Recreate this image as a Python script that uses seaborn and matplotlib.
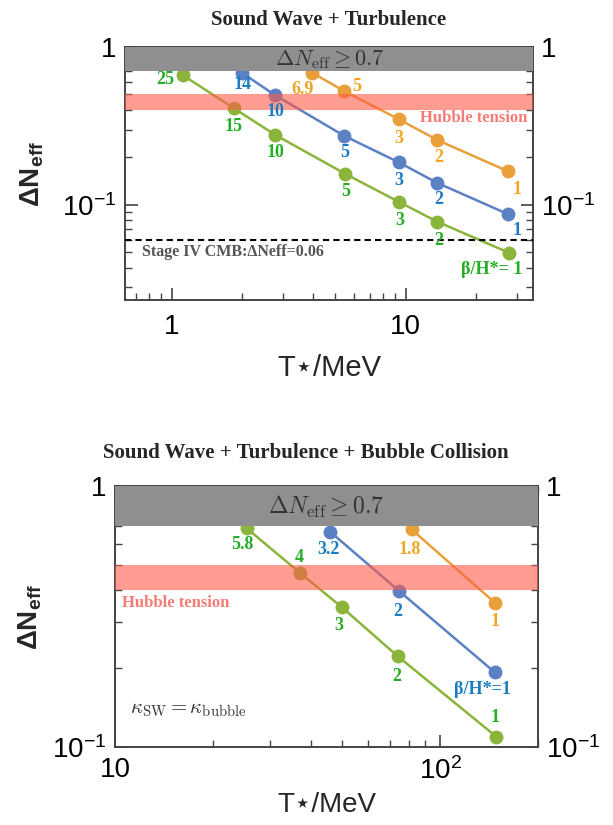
import numpy as np
import pandas as pd
import matplotlib
matplotlib.use("Agg")
import matplotlib.pyplot as plt
import seaborn as sns
from matplotlib.ticker import FixedLocator, FixedFormatter, LogLocator, NullFormatter

# --- panel 1: sound wave + turbulence ---
top_T_green = [1.11, 1.84, 2.77, 5.52, 9.40, 13.6, 27.5]
top_N_green = [0.665, 0.409, 0.277, 0.157, 0.104, 0.0784, 0.0499]
top_lab_green = ["25", "15", "10", "5", "3", "2", "β/H*= 1"]

top_T_blue = [1.99, 2.75, 5.47, 9.33, 13.6, 27.4]
top_N_blue = [0.687, 0.497, 0.273, 0.186, 0.138, 0.0873]
top_lab_blue = ["14", "10", "5", "3", "2", "1"]

top_T_orange = [3.98, 5.43, 9.33, 13.6, 27.4]
top_N_orange = [0.687, 0.527, 0.349, 0.258, 0.163]
top_lab_orange = ["6.9", "5", "3", "2", "1"]

# --- panel 2: + bubble collision ---
bot_T_green = [25.4, 37.2, 49.9, 74.0, 149.0]
bot_N_green = [0.689, 0.463, 0.343, 0.223, 0.1095]
bot_lab_green = ["5.8", "4", "3", "2", "1"]

bot_T_blue = [45.9, 74.8, 147.5]
bot_N_blue = [0.668, 0.396, 0.193]
bot_lab_blue = ["3.2", "2", "β/H*=1"]

bot_T_orange = [81.7, 147.5]
bot_N_orange = [0.682, 0.357]
bot_lab_orange = ["1.8", "1"]

hubble_band = (0.40, 0.50)
excluded = 0.7
stage4 = 0.06

line_col = {"green": "#8AB53A", "blue": "#5B80C4", "orange": "#E9A03A"}
text_col = {"green": "#25AD25", "blue": "#1B7CC2", "orange": "#F2A520"}

# label offsets in pixels (dx right, dy down)
top_off = {
    "green": [(-17, 5), (0, 18), (0, 18), (0, 18), (0, 18), (2, 19), (-17, 17)],
    "blue": [(1, 12), (1, 17), (0, 17), (0, 18), (2, 17), (9, 16)],
    "orange": [(-10, 17), (13, -4), (0, 19), (2, 18), (9, 18)],
}
bot_off = {
    "green": [(-4, 16), (-1, -16), (-3, 18), (-1, 20), (-1, -19)],
    "blue": [(-2, 18), (-1, 20), (-13, 17)],
    "orange": [(-2, 20), (0, 19)],
}

sns.set_theme(style="ticks")
plt.rcParams["font.family"] = ["Liberation Sans", "DejaVu Sans"]
plt.rcParams["mathtext.fontset"] = "custom"
plt.rcParams["mathtext.rm"] = "Liberation Sans"
plt.rcParams["mathtext.it"] = "Liberation Sans:italic"
plt.rcParams["mathtext.bf"] = "Liberation Sans:bold"

serif_bold = dict(family=["Liberation Serif", "DejaVu Serif"], fontweight="bold")


def make_df(series):
    rows = []
    for name, T, N in series:
        for t, n in zip(T, N):
            rows.append({"series": name, "T": t, "N": n})
    return pd.DataFrame(rows)


def style_axes(ax):
    for s in ax.spines.values():
        s.set_color("#444444")
        s.set_linewidth(1.4)
    ax.tick_params(which="both", direction="in", top=True, right=True,
                   labelright=True, colors="#444444", labelcolor="black")
    ax.tick_params(which="major", length=9, width=1.2, labelsize=20, pad=6)
    ax.tick_params(which="minor", length=5, width=1.0)


def draw_panel(ax, series, labels, offsets, xlim, ylim):
    df = make_df(series)
    sns.lineplot(data=df, x="T", y="N", hue="series", palette=line_col,
                 marker="o", markersize=10, markeredgewidth=0, linewidth=1.8,
                 legend=False, ax=ax, zorder=2, sort=False)
    ax.set_xscale("log")
    ax.set_yscale("log")
    ax.set_xlim(*xlim)
    ax.set_ylim(*ylim)
    for name, T, N in series:
        for t, n, lab, (dx, dy) in zip(T, N, labels[name], offsets[name]):
            ax.annotate(lab, xy=(t, n), xytext=(dx, -dy), textcoords="offset pixels",
                        ha="center", va="center", fontsize=13, color=text_col[name],
                        zorder=5, **serif_bold)
    ax.axhspan(excluded, ylim[1], color="#8F8F8F", zorder=4, lw=0)
    ax.axhspan(*hubble_band, color="#FF5A48", alpha=0.6, zorder=3, lw=0)
    style_axes(ax)


fig = plt.figure(figsize=(6.13, 8.25), dpi=100)

# top panel
ax1 = fig.add_axes([0.2039, 0.6364, 0.6656, 0.3067])
draw_panel(ax1,
           [("green", top_T_green, top_N_green),
            ("blue", top_T_blue, top_N_blue),
            ("orange", top_T_orange, top_N_orange)],
           {"green": top_lab_green, "blue": top_lab_blue, "orange": top_lab_orange},
           top_off, (0.63, 35), (0.025, 1))
ax1.axhline(stage4, color="black", ls=(0, (3, 2)), lw=1.5, zorder=3)
ax1.yaxis.set_major_locator(FixedLocator([0.1, 1]))
ax1.yaxis.set_major_formatter(FixedFormatter([r"$10^{-1}$", "1"]))
ax1.yaxis.set_minor_locator(LogLocator(base=10, subs=np.arange(2, 10)))
ax1.yaxis.set_minor_formatter(NullFormatter())
ax1.xaxis.set_major_locator(FixedLocator([1, 10]))
ax1.xaxis.set_major_formatter(FixedFormatter(["1", "10"]))
ax1.xaxis.set_minor_formatter(NullFormatter())
ax1.tick_params(axis="x", which="major", pad=10)
ax1.set_xlabel("T⋆/MeV", fontsize=21, labelpad=10)
ax1.set_ylabel(r"$\mathbf{\Delta N}_{\mathbf{eff}}$", fontsize=20, labelpad=12)
ax1.text(0.502, 0.949, r"$\Delta N_{\rm eff} \geq 0.7$", transform=ax1.transAxes,
         ha="center", va="center", fontsize=16, color="#333333", zorder=6,
         math_fontfamily="cm")
ax1.text(0.985, 0.719, "Hubble tension", transform=ax1.transAxes, ha="right",
         va="center", fontsize=12, color="#F47C74", zorder=6, **serif_bold)
ax1.text(0.042, 0.19, "Stage IV CMB:ΔNeff=0.06", transform=ax1.transAxes, ha="left",
         va="center", fontsize=11.5, color="#555555", zorder=6, **serif_bold)
ax1.set_title("Sound Wave + Turbulence", fontsize=15, pad=16, **serif_bold)

# bottom panel
ax2 = fig.add_axes([0.1876, 0.0945, 0.6900, 0.3164])
draw_panel(ax2,
           [("green", bot_T_green, bot_N_green),
            ("blue", bot_T_blue, bot_N_blue),
            ("orange", bot_T_orange, bot_N_orange)],
           {"green": bot_lab_green, "blue": bot_lab_blue, "orange": bot_lab_orange},
           bot_off, (10, 200), (0.1, 1))
ax2.yaxis.set_major_locator(FixedLocator([0.1, 1]))
ax2.yaxis.set_major_formatter(FixedFormatter([r"$10^{-1}$", "1"]))
ax2.yaxis.set_minor_locator(LogLocator(base=10, subs=np.arange(2, 10)))
ax2.yaxis.set_minor_formatter(NullFormatter())
ax2.xaxis.set_major_locator(FixedLocator([10, 100]))
ax2.xaxis.set_major_formatter(FixedFormatter(["10", r"$10^{2}$"]))
ax2.xaxis.set_minor_formatter(NullFormatter())
ax2.tick_params(axis="x", which="major", pad=7)
ax2.set_xlabel("T⋆/MeV", fontsize=20, labelpad=5)
ax2.set_ylabel(r"$\mathbf{\Delta N}_{\mathbf{eff}}$", fontsize=20, labelpad=6)
ax2.text(0.499, 0.921, r"$\Delta N_{\rm eff} \geq 0.7$", transform=ax2.transAxes,
         ha="center", va="center", fontsize=17, color="#333333", zorder=6,
         math_fontfamily="cm")
ax2.text(0.017, 0.552, "Hubble tension", transform=ax2.transAxes, ha="left",
         va="center", fontsize=12, color="#F47C74", zorder=6, **serif_bold)
ax2.text(0.035, 0.142, r"$\kappa_{\rm SW} = \kappa_{\rm bubble}$", transform=ax2.transAxes,
         ha="left", va="center", fontsize=15, color="#333333", zorder=6,
         math_fontfamily="cm")
fig.text(306 / 613, 1 - 453 / 825, "Sound Wave + Turbulence + Bubble Collision",
         ha="center", va="center", fontsize=15, **serif_bold)

fig.savefig("out.png", dpi=100)
